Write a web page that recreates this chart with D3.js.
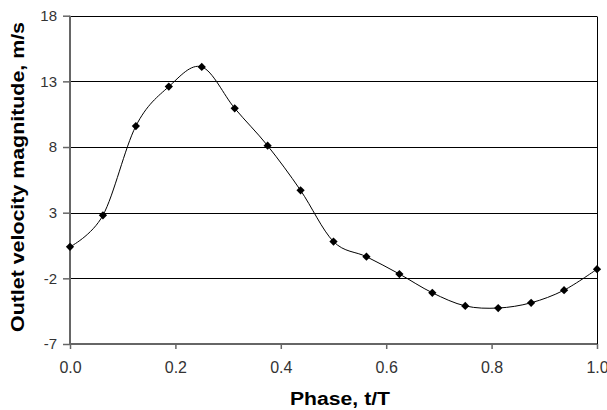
<!DOCTYPE html>
<html>
<head><meta charset="utf-8">
<title>Outlet velocity</title>
<style>
body { margin:0; background:#fff; }
svg text { font-family: Arial, "Liberation Sans", sans-serif; }
</style>
</head>
<body>
<svg width="607" height="410"></svg>
<script src="https://d3js.org/d3.v7.min.js"></script>
<script>
// phase t/T and outlet velocity (m/s)
var phase = [0, 0.0625, 0.125, 0.1875, 0.25, 0.3125, 0.375, 0.4375, 0.5,
             0.5625, 0.625, 0.6875, 0.75, 0.8125, 0.875, 0.9375, 1.0];
var velocity = [0.4, 2.8, 9.6, 12.6, 14.1, 10.95, 8.1, 4.7, 0.8,
                -0.35, -1.67, -3.1, -4.1, -4.26, -3.86, -2.9, -1.3];
var xTicks = [0, 0.2, 0.4, 0.6, 0.8, 1.0];
var yTicks = [-7, -2, 3, 8, 13, 18];

var data = phase.map(function(p, i) { return [p, velocity[i]]; });

// plot box (window.top is reserved, so prefix names)
var svg = d3.select("svg"),
    pLeft = 70, pRight = 597, pTop = 15.7, pBottom = 344;

var x = d3.scaleLinear().domain([0, 1]).range([pLeft, pRight]);
var y = d3.scaleLinear().domain([-7, 18]).range([pBottom, pTop]);

// gridlines
svg.append("g")
  .selectAll("line")
  .data(yTicks.slice(1))
  .enter().append("line")
    .attr("x1", pLeft).attr("x2", pRight)
    .attr("y1", function(d) { return Math.round(y(d)) + 0.5; })
    .attr("y2", function(d) { return Math.round(y(d)) + 0.5; })
    .attr("stroke", "#000").attr("stroke-width", 1);

// right border
svg.append("line")
  .attr("x1", pRight + 0.5).attr("x2", pRight + 0.5)
  .attr("y1", Math.round(pTop) + 0.5).attr("y2", pBottom)
  .attr("stroke", "#000");

// y axis (plain hyphen for negatives, like the original)
var yAxis = svg.append("g")
  .attr("transform", "translate(" + pLeft + ",0)")
  .call(d3.axisLeft(y).tickValues(yTicks).tickSize(7).tickPadding(6)
    .tickFormat(function(d) { return String(d); }));
// x axis
var xAxis = svg.append("g")
  .attr("transform", "translate(0," + pBottom + ")")
  .call(d3.axisBottom(x).tickValues(xTicks).tickSize(5).tickPadding(13)
    .tickFormat(function(d) { return d.toFixed(1); }));

[yAxis, xAxis].forEach(function(a) {
  a.select(".domain").attr("stroke", "#666").attr("stroke-width", 2);
  a.selectAll(".tick line").attr("stroke", "#666").attr("stroke-width", 1.5);
  a.selectAll("text").attr("fill", "#333").attr("font-family", "Arial, 'Liberation Sans', sans-serif");
});
yAxis.select(".domain").attr("d", "M0," + pTop + "V" + pBottom);
xAxis.select(".domain").attr("d", "M" + pLeft + ",0H" + pRight);
yAxis.selectAll("text").attr("font-size", 15);
xAxis.selectAll("text").attr("font-size", 16);

// smoothed line
var line = d3.line()
  .x(function(d) { return x(d[0]); })
  .y(function(d) { return y(d[1]); })
  .curve(d3.curveCardinal.tension(0));

svg.append("path")
  .datum(data)
  .attr("d", line)
  .attr("fill", "none")
  .attr("stroke", "#000")
  .attr("stroke-width", 1);

// diamond markers
svg.append("g")
  .selectAll("path")
  .data(data)
  .enter().append("path")
    .attr("d", d3.symbol().type(d3.symbolSquare).size(34))
    .attr("transform", function(d) { return "translate(" + x(d[0]) + "," + y(d[1]) + ") rotate(45)"; })
    .attr("fill", "#000");

// axis titles
svg.append("text")
  .attr("x", 340)
  .attr("y", 405)
  .attr("text-anchor", "middle")
  .attr("font-size", 18)
  .attr("font-weight", "bold")
  .attr("fill", "#000")
  .attr("textLength", 100)
  .attr("lengthAdjust", "spacingAndGlyphs")
  .text("Phase, t/T");

svg.append("text")
  .attr("transform", "translate(24,177) rotate(-90)")
  .attr("text-anchor", "middle")
  .attr("font-size", 18)
  .attr("font-weight", "bold")
  .attr("fill", "#000")
  .attr("textLength", 310)
  .attr("lengthAdjust", "spacingAndGlyphs")
  .text("Outlet velocity magnitude, m/s");
</script>
</body>
</html>
